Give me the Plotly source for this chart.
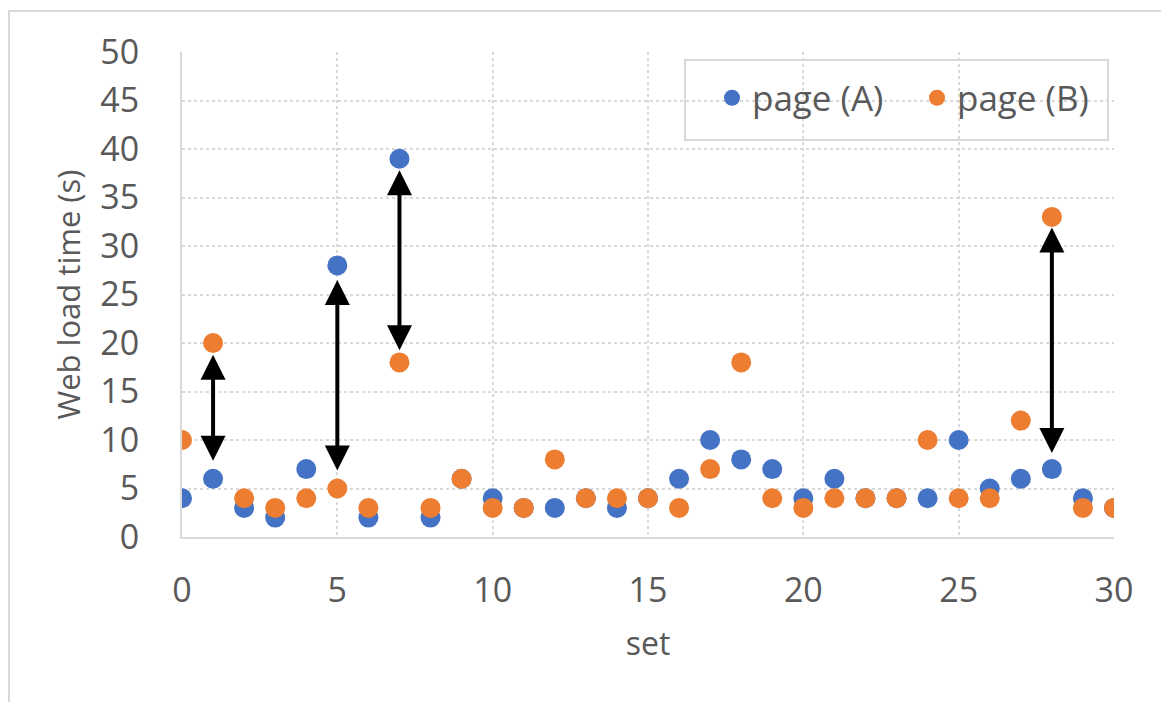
import plotly.graph_objects as go

sets = list(range(31))
page_a = [4, 6, 3, 2, 7, 28, 2, 39, 2, 6, 4, 3, 3, 4, 3, 4, 6, 10, 8, 7, 4, 6, 4, 4, 4, 10, 5, 6, 7, 4, 3]
page_b = [10, 20, 4, 3, 4, 5, 3, 18, 3, 6, 3, 3, 8, 4, 4, 4, 3, 7, 18, 4, 3, 4, 4, 4, 10, 4, 4, 12, 33, 3, 3]

# arrow annotations: (set, low end, high end)
arrow_x = [1, 5, 7, 28]
arrow_lo = [7.7, 6.7, 19.1, 8.5]
arrow_hi = [18.8, 26.5, 37.8, 31.9]

x_ticks = [0, 5, 10, 15, 20, 25, 30]
y_ticks = [0, 5, 10, 15, 20, 25, 30, 35, 40, 45, 50]

BLUE = "#4472C4"
ORANGE = "#ED7D31"
GRID = "#d9d9d9"
TXT = "#595959"
FONT = "Open Sans"

OFF = 8  # page body margin
L, R, T, B = 182 - OFF, 55, 52 - OFF, 165
W, H = 1169 - OFF, 702 - OFF
pw, ph = W - L - R, H - T - B

fig = go.Figure()
fig.add_trace(go.Scatter(x=sets, y=page_a, mode="markers", name="page (A)",
                         marker=dict(color=BLUE, size=20)))
fig.add_trace(go.Scatter(x=sets, y=page_b, mode="markers", name="page (B)",
                         marker=dict(color=ORANGE, size=20)))

for xv, lo, hi in zip(arrow_x, arrow_lo, arrow_hi):
    fig.add_annotation(x=xv, y=hi, ax=xv, ay=lo, xref="x", yref="y", axref="x", ayref="y",
                       text="", showarrow=True, arrowhead=2, startarrowhead=2,
                       arrowside="end+start", arrowsize=1.25, startarrowsize=1.25,
                       arrowwidth=4, arrowcolor="black", standoff=0, startstandoff=0)

# convert page pixel coordinates of the reference into paper fractions
def px(xp):
    return (xp - OFF - L) / pw

def py(yp):
    return (H - B - (yp - OFF)) / ph

# outer chart frame
fig.add_shape(type="rect", xref="paper", yref="paper",
              x0=px(9), x1=px(1166), y0=py(740), y1=py(11),
              line=dict(color=GRID, width=2), fillcolor="rgba(0,0,0,0)", layer="below")
# legend box
fig.add_shape(type="rect", xref="paper", yref="paper",
              x0=px(685), x1=px(1108), y0=py(140), y1=py(60),
              line=dict(color=GRID, width=2), fillcolor="white", layer="between")

fig.update_layout(
    width=W, height=H,
    margin=dict(l=L, r=R, t=T, b=B, autoexpand=False),
    paper_bgcolor="white", plot_bgcolor="white",
    font=dict(family=FONT, color=TXT, size=34),
    showlegend=True,
    legend=dict(orientation="h", x=px(712), y=py(98), xanchor="left", yanchor="middle",
                bgcolor="rgba(0,0,0,0)", borderwidth=0,
                font=dict(size=35, color=TXT), itemsizing="trace",
                entrywidth=160, entrywidthmode="pixels"),
    xaxis=dict(range=[0, 30], tickvals=x_ticks, showgrid=True, gridcolor=GRID,
               griddash="dot", gridwidth=1.5, showline=True, linecolor=GRID, linewidth=2,
               zeroline=False, ticks="outside", ticklen=22, tickcolor="rgba(0,0,0,0)",
               automargin=False,
               title=dict(text="set", font=dict(size=32, color=TXT), standoff=22),
               mirror=False),
    yaxis=dict(range=[0, 50], tickvals=y_ticks, showgrid=True, gridcolor=GRID,
               griddash="dot", gridwidth=1.5, showline=True, linecolor=GRID, linewidth=2,
               automargin=False,
               zeroline=False, ticks="outside", ticklen=34, tickcolor="rgba(0,0,0,0)",
               title=dict(text="Web load time (s)", font=dict(size=31, color=TXT), standoff=10)),
)

fig.write_html("out.html")
